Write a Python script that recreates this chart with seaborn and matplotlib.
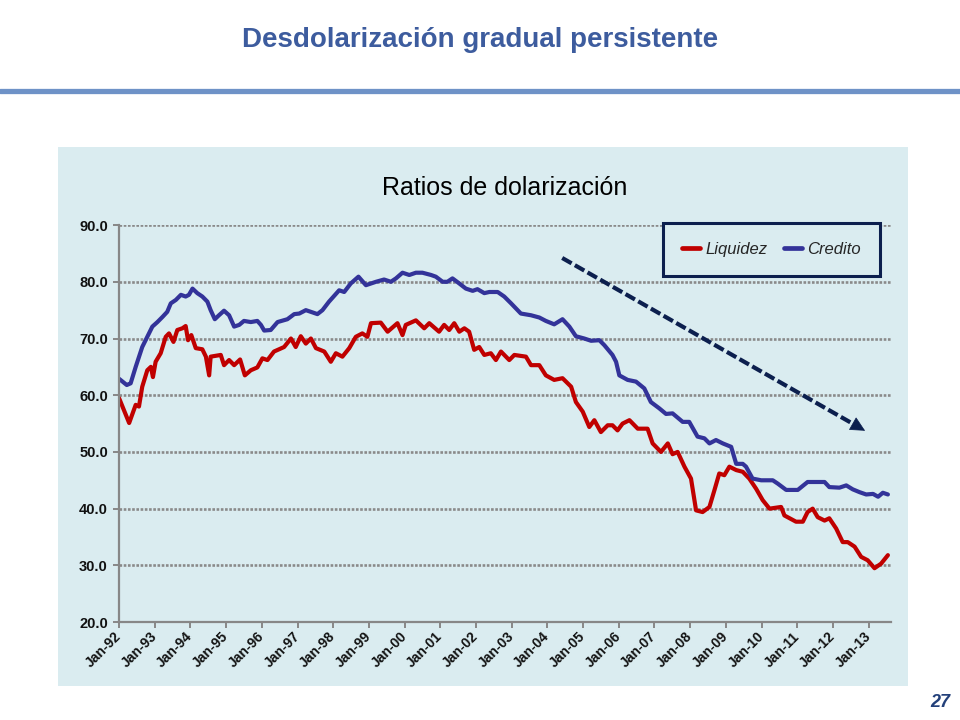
import matplotlib
matplotlib.use("Agg")
import matplotlib.pyplot as plt
import matplotlib.dates as mdates
from matplotlib.lines import Line2D
from matplotlib.patches import Rectangle
import seaborn as sns
import pandas as pd
import numpy as np

# months counted from Jan-1992, values in percent
liq_months = [0, 3.4, 5.6, 6.7, 7.8, 9.5, 10.7, 11.4, 12.3, 14.0, 15.7, 16.8, 18.3, 19.6, 21.3,
              22.4, 23.2, 24.3, 25.8, 28.0, 29.2, 30.3, 30.8, 34.2, 35.3, 37.0, 38.7, 40.7, 42.3,
              44.3, 46.5, 48.2, 49.9, 52.1, 55.5, 57.8, 59.4, 61.1, 62.8, 64.5, 66.2, 69.0, 71.2,
              72.9, 75.1, 77.4, 79.6, 81.8, 83.5, 84.7, 88.0, 90.3, 93.6, 95.3, 96.4, 99.8, 102.6,
              104.3, 107.6, 109.3, 111.0, 112.7, 114.4, 116.1, 117.7, 119.4, 121.1, 122.8, 125.0,
              126.7, 128.4, 131.2, 132.9, 136.8, 138.5, 141.3, 143.5, 146.3, 149.1, 152.0, 153.6,
              155.9, 158.1, 159.8, 162.0, 164.3, 165.9, 167.6, 169.3, 171.6, 174.4, 177.7, 179.4,
              182.2, 184.5, 186.1, 187.8, 190.1, 192.3, 194.0, 196.2, 198.5, 200.2, 201.8, 203.5,
              205.2, 207.5, 209.7, 211.9, 214.2, 216.4, 218.7, 222.6, 223.7, 227.6, 229.9, 231.5,
              233.2, 234.9, 237.2, 238.8, 241.1, 243.3, 245.0, 247.3, 249.5, 251.7, 254.0, 256.2,
              258.5]
liq_values = [59.5, 55.1, 58.3, 58.0, 61.5, 64.4, 65.0, 63.2, 65.9, 67.4, 70.3, 70.9, 69.4, 71.5, 71.8,
              72.2, 69.7, 70.6, 68.3, 68.1, 66.8, 63.5, 66.8, 67.1, 65.3, 66.2, 65.3, 66.3, 63.5,
              64.4, 64.9, 66.5, 66.2, 67.7, 68.5, 70.0, 68.5, 70.4, 69.1, 70.0, 68.3, 67.7, 65.9,
              67.4, 66.8, 68.3, 70.3, 70.9, 70.3, 72.7, 72.8, 71.2, 72.7, 70.6, 72.4, 73.2, 71.8,
              72.7, 71.2, 72.4, 71.5, 72.7, 71.2, 71.8, 71.2, 68.0, 68.5, 67.1, 67.4,
              66.2, 67.7, 66.2, 67.1, 66.8, 65.3, 65.3, 63.5, 62.7, 63.0, 61.5, 58.8,
              57.1, 54.4, 55.6, 53.5, 54.7, 54.7, 53.8, 55.0, 55.6, 54.1, 54.1, 51.5,
              50.0, 51.5, 49.6, 50.0, 47.4, 45.3, 39.7, 39.4, 40.3, 43.3, 46.2, 45.9,
              47.4, 46.8, 46.5, 45.3, 43.5, 41.5, 40.0, 40.3, 38.8, 37.7, 37.7, 39.4,
              40.0, 38.5, 37.9, 38.3, 36.5, 34.1, 34.1, 33.3, 31.5, 30.9, 29.5, 30.3,
              31.8]

cred_months = [0, 2.6, 3.9, 5.6, 7.8, 9.5, 11.2, 12.9, 14.6, 16.2, 17.4, 19.1, 20.8, 22.4, 23.5,
               24.7, 26.3, 28.0, 29.7, 30.8, 32.2, 33.6, 35.3, 37.0, 38.7, 40.4, 42.0, 44.3, 46.5,
               47.7, 48.8, 51.0, 53.3, 56.6, 58.9, 60.6, 62.8, 64.5, 66.7, 68.4, 70.6, 74.0, 75.7,
               77.9, 80.5, 83.0, 86.4, 89.1, 91.4, 93.1, 95.3, 97.6, 99.8, 102.0, 104.9, 106.5,
               108.8, 110.4, 112.1, 114.4, 116.6, 118.9, 120.5, 122.8, 124.5, 127.3, 129.5, 131.8,
               135.1, 138.5, 141.3, 143.5, 146.3, 149.1, 151.4, 153.6, 156.4, 158.7, 161.5, 163.2,
               165.9, 167.1, 168.2, 171.0, 173.8, 176.6, 178.8, 181.6, 183.9, 186.1, 189.5, 191.7,
               194.5, 196.8, 198.5, 200.7, 203.0, 205.8, 207.5, 209.7, 210.8, 213.0, 215.9, 219.8,
               221.5, 224.3, 228.2, 231.5, 234.9, 237.2, 238.8, 242.2, 244.5, 246.7, 249.0, 251.2,
               253.5, 255.2, 256.8, 258.5]
cred_values = [62.9, 61.8, 62.1, 65.0, 68.5, 70.3, 72.1, 72.9, 73.8, 74.7, 76.2, 76.8, 77.7, 77.4, 77.7,
               78.8, 78.0, 77.4, 76.5, 75.0, 73.4, 74.1, 74.9, 74.1, 72.1, 72.4, 73.1, 72.9, 73.1,
               72.4, 71.4, 71.5, 72.9, 73.4, 74.3, 74.4, 75.0, 74.7, 74.3, 75.0, 76.5, 78.5, 78.2,
               79.7, 80.9, 79.4, 80.0, 80.4, 80.0, 80.6, 81.6, 81.2, 81.6, 81.6, 81.2, 80.9,
               80.0, 80.0, 80.6, 79.7, 78.8, 78.4, 78.7, 78.0, 78.2, 78.2, 77.4, 76.2,
               74.4, 74.1, 73.7, 73.1, 72.5, 73.4, 72.1, 70.4, 70.0, 69.6, 69.7, 68.8,
               67.1, 65.9, 63.5, 62.7, 62.4, 61.2, 58.8, 57.7, 56.7, 56.8, 55.3, 55.3,
               52.7, 52.4, 51.5, 52.1, 51.5, 50.9, 47.9, 47.9, 47.4, 45.3, 45.0, 45.0,
               44.4, 43.3, 43.3, 44.7, 44.7, 44.7, 43.8, 43.7, 44.1, 43.4, 42.9, 42.5,
               42.6, 42.1, 42.8, 42.5]

year_ticks = list(range(1992, 2014))
y_ticks = [20, 30, 40, 50, 60, 70, 80, 90]
trend_start = ("2004-06-01", 84.2)
trend_end = ("2012-12-20", 53.5)

red = "#c00000"
blue = "#333399"
navy = "#0c1f4e"
panel = "#daecf0"
grey = "#878787"

sns.set_theme(style="white")
plt.rcParams["font.family"] = ["Liberation Sans", "DejaVu Sans"]


def to_dates(months):
    return pd.Timestamp("1992-01-01") + pd.to_timedelta(np.asarray(months) * 30.4375, unit="D")


df = pd.concat([
    pd.DataFrame({"fecha": to_dates(liq_months), "ratio": liq_values, "serie": "Liquidez"}),
    pd.DataFrame({"fecha": to_dates(cred_months), "ratio": cred_values, "serie": "Credito"}),
], ignore_index=True)

fig = plt.figure(figsize=(9.6, 7.2), dpi=100)
fig.add_artist(Rectangle((0.0604, 0.0472), 0.8854, 0.7486, transform=fig.transFigure,
                         facecolor=panel, edgecolor="none", zorder=-1))
fig.add_artist(Line2D([0, 1], [0.8743, 0.8743], transform=fig.transFigure, color="#6e92c7", lw=3.8))
fig.text(0.5, 0.944, "Desdolarización gradual persistente", ha="center", va="center",
         fontsize=20, fontweight="bold", color="#3d5c9e")
fig.text(0.526, 0.739, "Ratios de dolarización", ha="center", va="center", fontsize=18, color="black")
fig.text(0.979, 0.024, "27", ha="center", va="center", fontsize=13, fontweight="bold",
         style="italic", color="#23407a")

ax = fig.add_axes([0.124, 0.136, 0.804, 0.5514])
ax.set_facecolor("none")

sns.lineplot(data=df, x="fecha", y="ratio", hue="serie", palette={"Liquidez": red, "Credito": blue},
             linewidth=3.0, errorbar=None, ax=ax)

# trend arrow
x0, y0 = mdates.date2num(pd.Timestamp(trend_start[0])), trend_start[1]
x1, y1 = mdates.date2num(pd.Timestamp(trend_end[0])), trend_end[1]
xb, yb = x0 + (x1 - x0) * 0.96, y0 + (y1 - y0) * 0.96
ax.plot([x0, xb], [y0, yb], color=navy, lw=3.0, dashes=(2.6, 0.9), zorder=4)
ax.annotate("", xy=(x1, y1), xytext=(xb, yb),
            arrowprops=dict(arrowstyle="-|>", color=navy, lw=0.5, mutation_scale=24), zorder=5)

ax.set_ylim(20, 90)
ax.set_xlim(pd.Timestamp("1992-01-01"), pd.Timestamp("1992-01-01") + pd.Timedelta(days=259.5 * 30.4375))
ax.set_yticks(y_ticks)
ax.set_yticklabels([f"{v:.1f}" for v in y_ticks])
xt = [pd.Timestamp(f"{y}-01-01") for y in year_ticks]
ax.set_xticks(xt)
ax.set_xticklabels([d.strftime("%b-%y") for d in xt], rotation=45, ha="right", va="center",
                   rotation_mode="anchor")
ax.set_xlabel("")
ax.set_ylabel("")

ax.grid(axis="y", color="#8a8a8a", lw=1.9, linestyle=(0, (1, 0.6)))
ax.grid(axis="x", visible=False)
ax.set_axisbelow(True)
for side in ["top", "right"]:
    ax.spines[side].set_visible(False)
for side in ["left", "bottom"]:
    ax.spines[side].set_color(grey)
    ax.spines[side].set_linewidth(1.6)
ax.tick_params(axis="y", left=True, length=4, width=1.4, color=grey, pad=4, labelsize=10.5)
ax.tick_params(axis="x", bottom=True, length=4, width=1.4, color=grey, pad=5, labelsize=10)
for lab in ax.get_xticklabels() + ax.get_yticklabels():
    lab.set_fontweight("bold")
    lab.set_color("#111111")

handles, labels = ax.get_legend_handles_labels()
leg = ax.legend(handles, labels, ncol=2, loc="upper right", bbox_to_anchor=(0.986, 1.005),
                borderaxespad=0, prop={"style": "italic", "size": 12}, frameon=True, fancybox=False,
                edgecolor=navy, facecolor=panel, framealpha=1, borderpad=1.15,
                handlelength=1.1, handletextpad=0.3, columnspacing=1.0)
leg.get_frame().set_linewidth(2.2)
for h in leg.get_lines():
    h.set_linewidth(3.4)

fig.savefig("out.png", dpi=100)
